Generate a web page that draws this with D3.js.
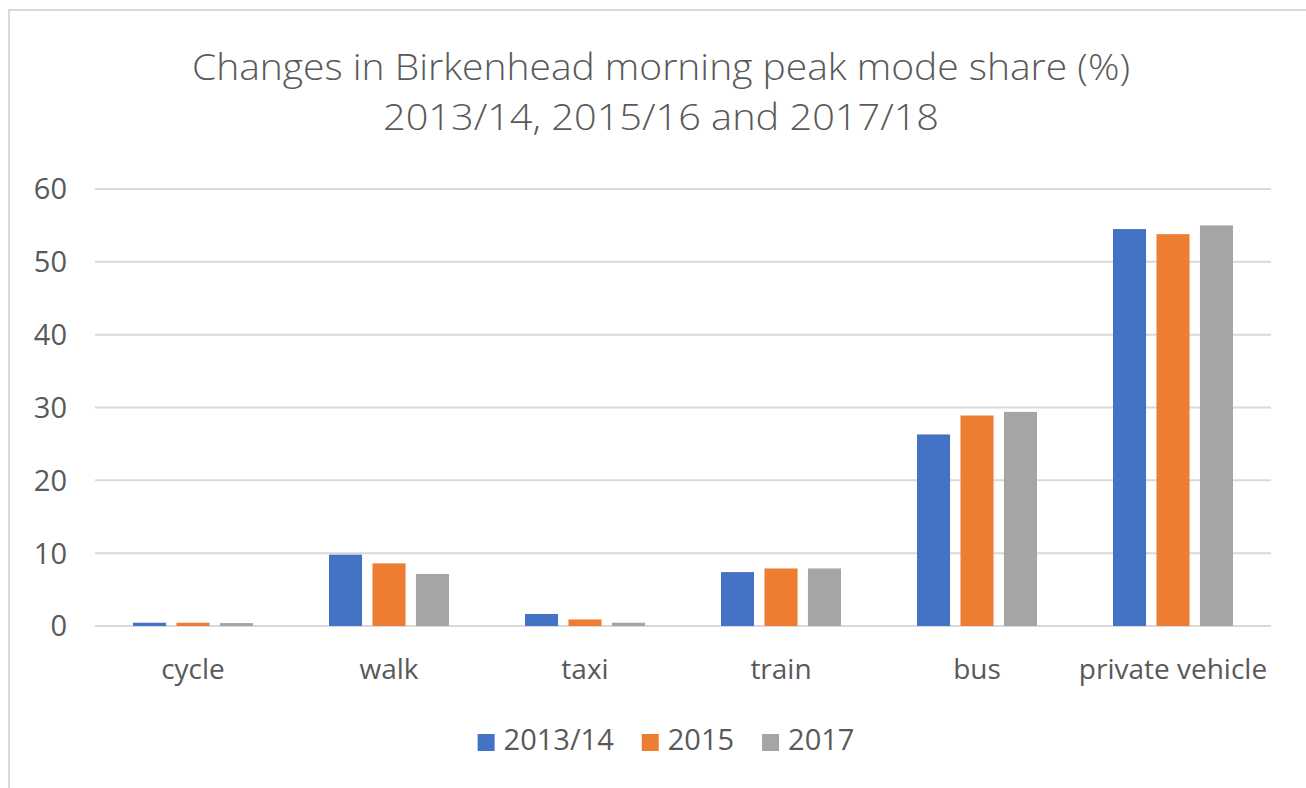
<!DOCTYPE html>
<html>
<head>
<meta charset="utf-8">
<script src="https://cdn.jsdelivr.net/npm/d3@7"></script>
<style>
  body { margin: 0; background: #fff; }
  text { font-family: "Open Sans", sans-serif; fill: #595959; }
</style>
</head>
<body>
<div id="chart"></div>
<script>
// data
const modes = ["cycle", "walk", "taxi", "train", "bus", "private vehicle"];
const seriesNames = ["2013/14", "2015", "2017"];
const values2013 = [0.45, 9.8, 1.65, 7.4, 26.3, 54.5];
const values2015 = [0.45, 8.6, 0.9, 7.9, 28.9, 53.8];
const values2017 = [0.4, 7.15, 0.45, 7.9, 29.4, 55.0];
const yTicks = [0, 10, 20, 30, 40, 50, 60];
const titleLines = ["Changes in Birkenhead morning peak mode share (%)", "2013/14, 2015/16 and 2017/18"];

const colors = ["#4472c4", "#ed7d31", "#a5a5a5"];
const allSeries = [values2013, values2015, values2017];

const W = 1306, H = 788;
const margin = {top: 189, right: 35, bottom: 162, left: 95};

const svg = d3.select("#chart")
    .append("svg")
    .attr("width", W)
    .attr("height", H);

// chart frame (only top and left edges visible in the crop)
svg.append("rect")
    .attr("x", 9).attr("y", 10)
    .attr("width", W + 20).attr("height", H + 20)
    .attr("fill", "none")
    .attr("stroke", "#d9d9d9")
    .attr("stroke-width", 2);

// title
const titleW = [938, 556];
svg.selectAll(".title")
    .data(titleLines)
    .join("text")
    .attr("class", "title")
    .attr("x", 661)
    .attr("y", (d, i) => 80 + i * 50)
    .attr("text-anchor", "middle")
    .attr("font-size", "37px")
    .attr("font-weight", 300)
    .attr("textLength", (d, i) => titleW[i])
    .attr("lengthAdjust", "spacingAndGlyphs")
    .text(d => d);

// scales
const x = d3.scaleBand()
    .domain(modes)
    .range([margin.left, W - margin.right])
    .padding(0);

const xInner = d3.scaleBand()
    .domain(seriesNames)
    .range([-60, 60])
    .paddingInner(0.24)
    .paddingOuter(0);

const y = d3.scaleLinear()
    .domain([0, 60])
    .range([H - margin.bottom, margin.top]);

// gridlines
svg.append("g")
    .selectAll("line")
    .data(yTicks)
    .join("line")
    .attr("x1", margin.left)
    .attr("x2", W - margin.right)
    .attr("y1", d => y(d))
    .attr("y2", d => y(d))
    .attr("stroke", "#d9d9d9")
    .attr("stroke-width", 2);

// y tick labels
svg.append("g")
    .selectAll("text")
    .data(yTicks)
    .join("text")
    .attr("x", 67)
    .attr("y", d => y(d))
    .attr("dy", "0.36em")
    .attr("text-anchor", "end")
    .attr("font-size", "29px")
    .text(d => d);

// bars
const groups = svg.append("g")
    .selectAll("g")
    .data(modes)
    .join("g")
    .attr("transform", d => `translate(${x(d) + x.bandwidth() / 2},0)`);

groups.selectAll("rect")
    .data((m, i) => seriesNames.map((s, j) => ({s: s, j: j, v: allSeries[j][i]})))
    .join("rect")
    .attr("x", d => xInner(d.s))
    .attr("width", xInner.bandwidth())
    .attr("y", d => y(d.v))
    .attr("height", d => y(0) - y(d.v))
    .attr("fill", d => colors[d.j]);

// category labels
svg.append("g")
    .selectAll("text")
    .data(modes)
    .join("text")
    .attr("x", d => x(d) + x.bandwidth() / 2)
    .attr("y", 679)
    .attr("text-anchor", "middle")
    .attr("font-size", "28px")
    .text(d => d);

// legend
const legend = svg.append("g");
let lx = 0;
seriesNames.forEach(function(s, i) {
    const g = legend.append("g").attr("transform", `translate(${lx},0)`);
    g.append("rect")
        .attr("x", 0).attr("y", -16)
        .attr("width", 17).attr("height", 17)
        .attr("fill", colors[i]);
    const t = g.append("text")
        .attr("x", 26)
        .attr("y", 0)
        .attr("font-size", "29px")
        .text(s);
    lx += 26 + t.node().getComputedTextLength() + 28;
});
const legendW = lx - 28;
legend.attr("transform", `translate(${666 - legendW / 2}, 750)`);
</script>
</body>
</html>
